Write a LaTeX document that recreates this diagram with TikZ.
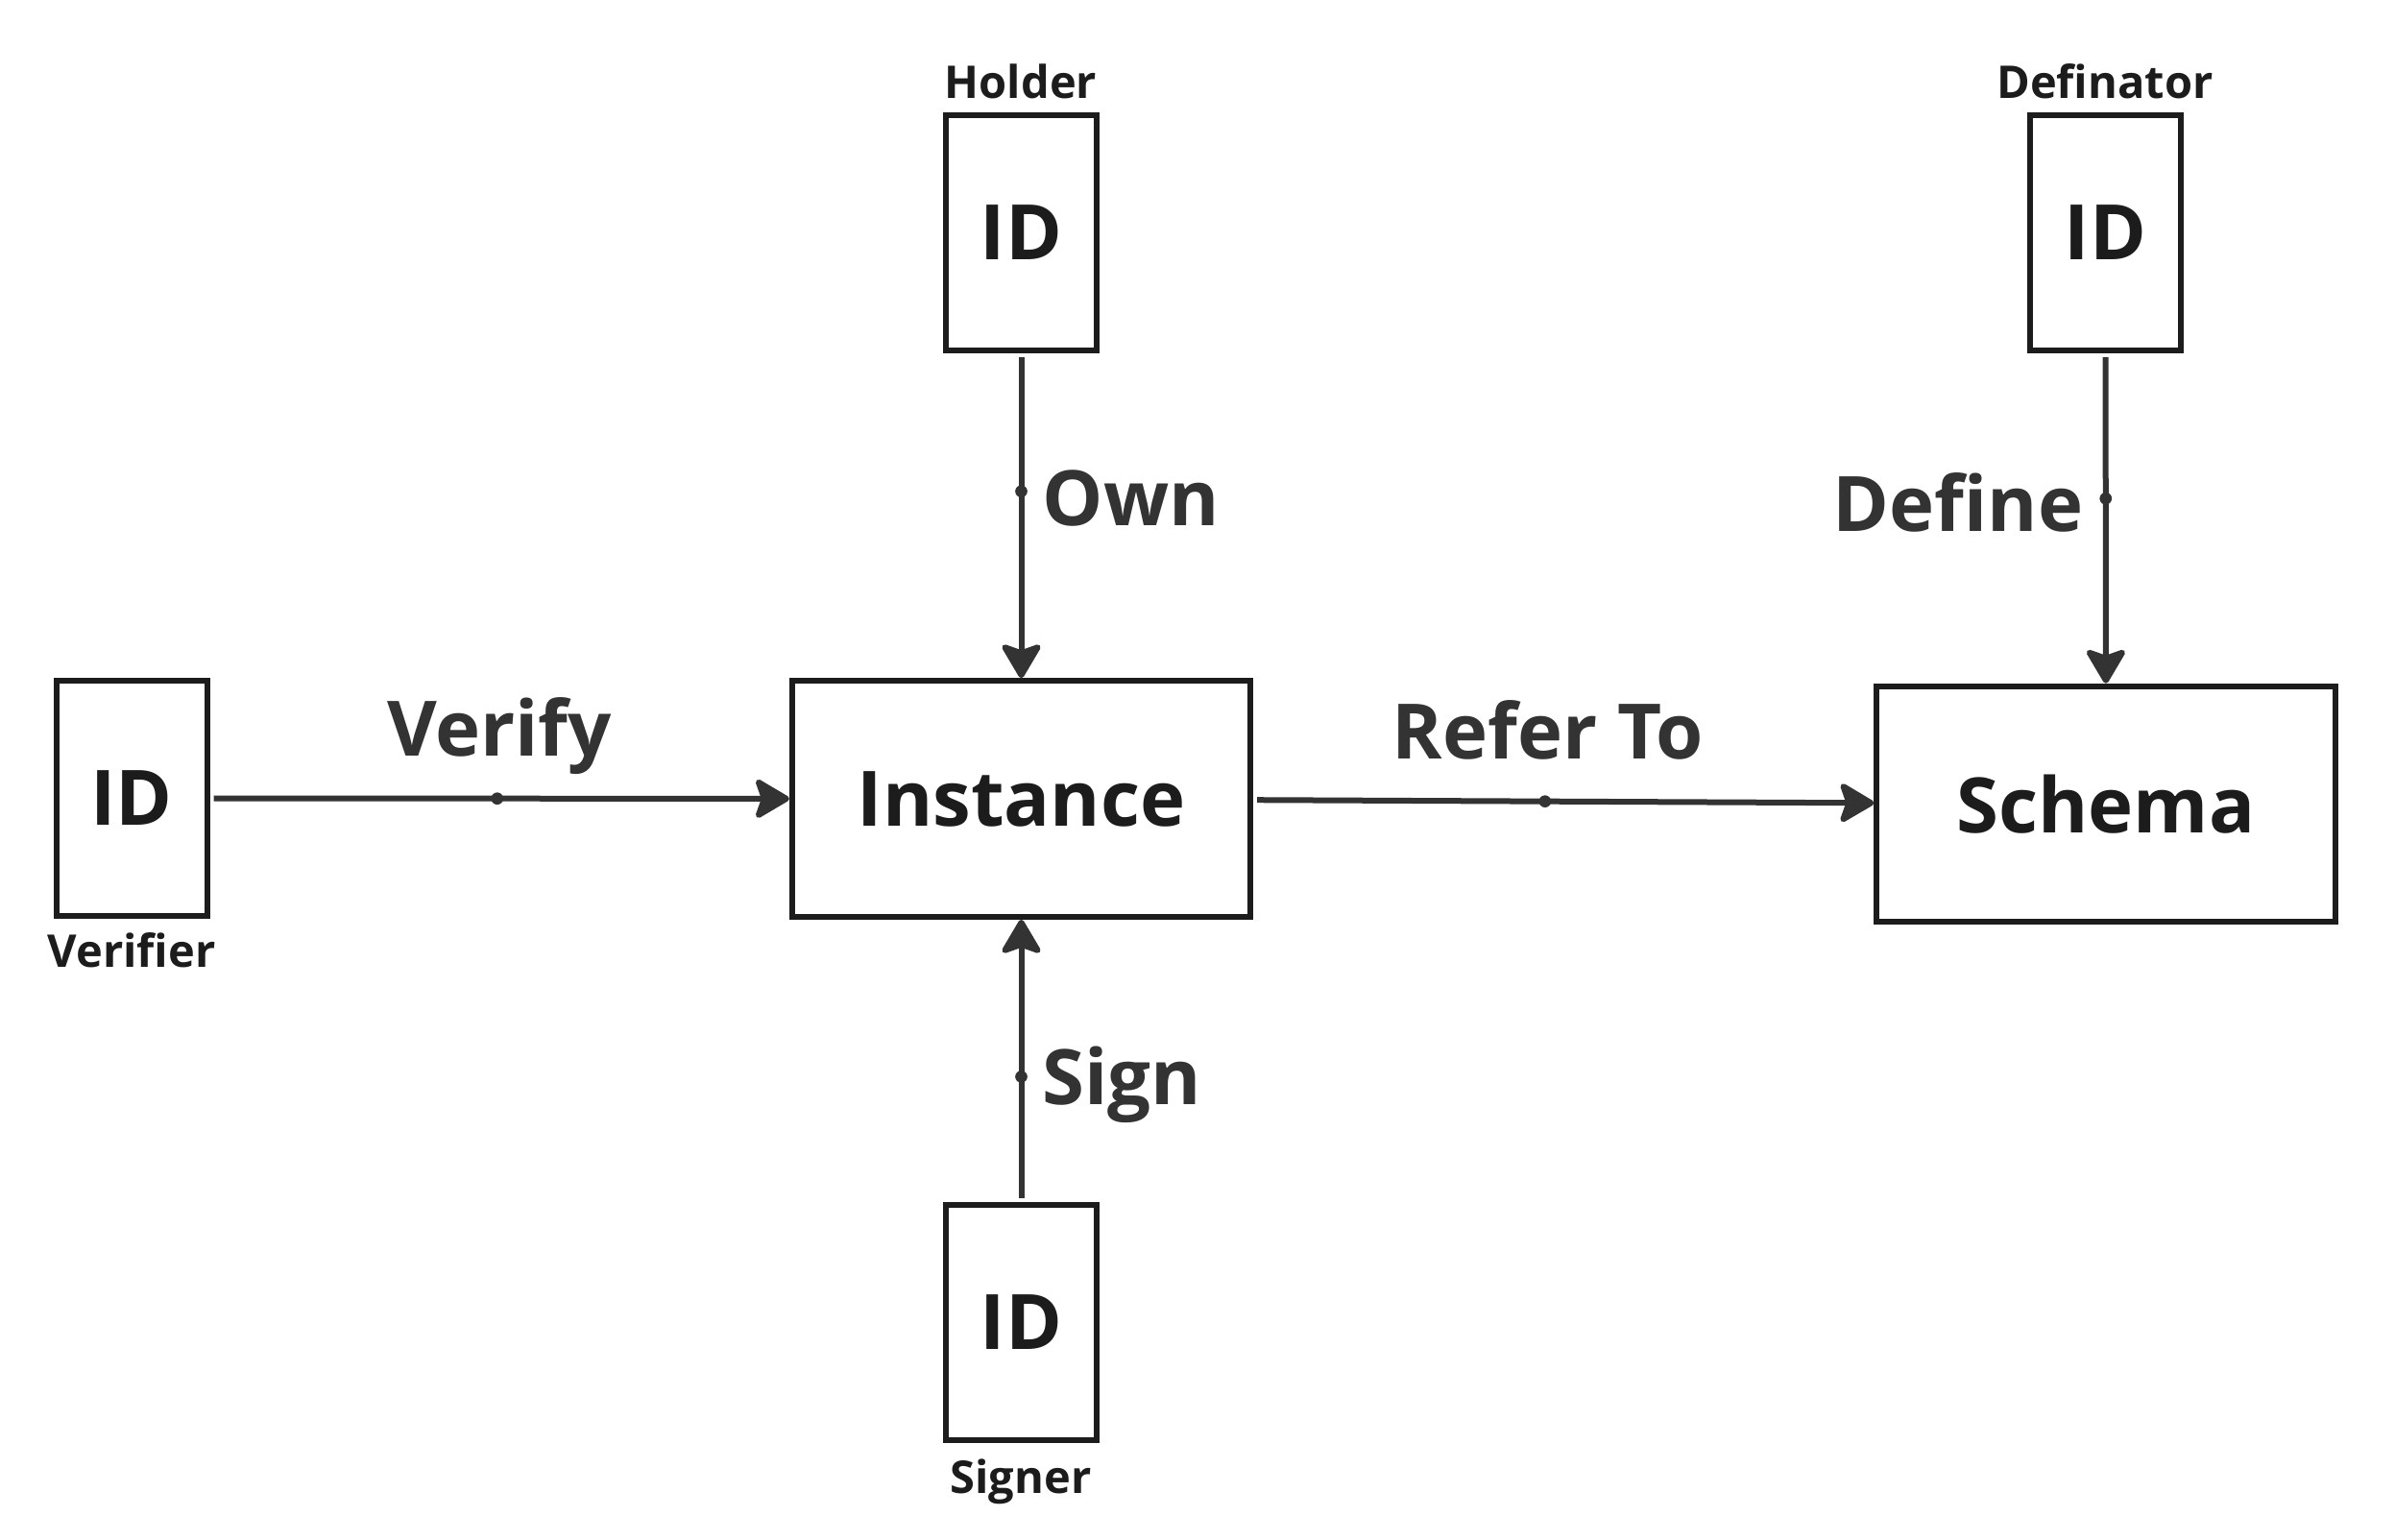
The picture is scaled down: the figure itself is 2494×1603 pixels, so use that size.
\documentclass[tikz,border=0pt]{standalone}
\usepackage{fontspec}
\setmainfont{Open Sans}
\usetikzlibrary{arrows.meta}
\definecolor{boxc}{HTML}{1C1C1C}
\definecolor{linec}{HTML}{333333}
\begin{document}
\begin{tikzpicture}[x=0.3pt,y=-0.3pt,
  idbox/.style={draw=boxc, line width=1.8pt, minimum width=47.1pt, minimum height=73.5pt, inner sep=0pt, text=boxc, font=\fontsize{23.9pt}{29pt}\selectfont\bfseries},
  bigbox/.style={idbox, minimum width=143.2pt, minimum height=73.7pt},
  role/.style={text=boxc, font=\fontsize{14.1pt}{17pt}\selectfont\bfseries, inner sep=0pt},
  rel/.style={text=linec, font=\fontsize{23.9pt}{29pt}\selectfont\bfseries, inner sep=0pt},
  conn/.style={draw=linec, line width=1.8pt, shorten <=1.2pt, -{Stealth[length=12pt,width=14pt,inset=2.4pt,round]}},
  middot/.style={circle, fill=linec, inner sep=0pt, minimum size=3.8pt}
]
\useasboundingbox (0,0) rectangle (2494,1603);
% boxes
\node[idbox] (holder) at (1063.5,242.5) {ID};
\node[idbox] (definator) at (2192.5,242.5) {ID};
\node[idbox] (verifier) at (137,831.5) {ID};
\node[idbox] (signer) at (1063.5,1377) {ID};
\node[bigbox] (instance) at (1063.5,832) {Instance};
\node[bigbox] (schema) at (2193,837.5) {Schema};
% role labels
\node[role, anchor=base] (lholder) at (1063,102) {Holder};
\node[role, anchor=base] (ldefinator) at (2192,102) {Definator};
\node[role, anchor=base] (lverifier) at (137,1007) {Verifier};
\node[role, anchor=base] (lsigner) at (1063,1555) {Signer};
% connectors
\draw[conn] (holder) -- node[middot, pos=0.425] (downdot) {} (instance);
\draw[conn] (definator) -- node[middot, pos=0.44] (defdot) {} (schema);
\draw[conn] (verifier) -- node[middot, pos=0.496] (verdot) {} (instance);
\draw[conn] (instance) -- node[middot, pos=0.47] (refdot) {} (schema);
\draw[conn] (signer) -- node[middot, pos=0.443] (signdot) {} (instance);
% relation labels
\node[rel, anchor=base west] (lown) at (1085,547) {Own};
\node[rel, anchor=base east] (ldefine) at (2170,553) {Define};
\node[rel, anchor=base] (lverify) at (520,787) {Verify};
\node[rel, anchor=base] (lrefer) at (1612,790) {Refer To};
\node[rel, anchor=base west] (lsign) at (1085,1150) {Sign};
\end{tikzpicture}
\end{document}
